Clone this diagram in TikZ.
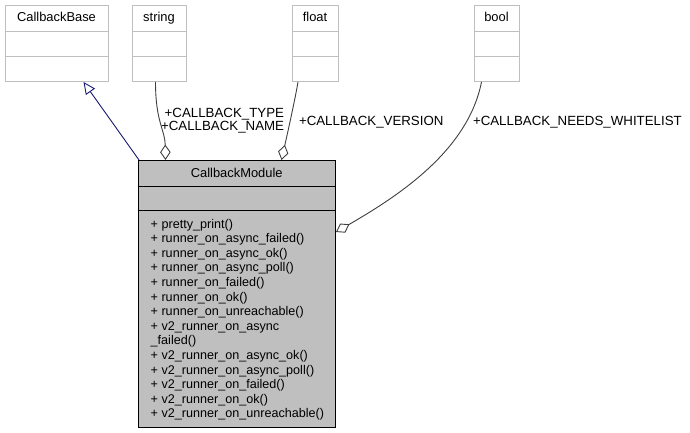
\documentclass[tikz,border=0pt]{standalone}
\usepackage{fontspec}
\setmainfont{Liberation Sans}
\usetikzlibrary{arrows.meta,calc}
\definecolor{boxgray}{HTML}{BFBFBF}
\definecolor{edgegray}{HTML}{404040}
\definecolor{navyline}{HTML}{191970}
\begin{document}
\begin{tikzpicture}[x=1pt,y=-1pt,
  font=\fontsize{12.6}{14.6}\selectfont,
  cls/.style={draw=boxgray, fill=white, line width=1pt, inner sep=0pt, rectangle},
  mainbox/.style={draw=black, fill=boxgray, line width=1pt, inner sep=0pt, rectangle},
  clsdiv/.style={draw=boxgray, line width=1pt},
  maindiv/.style={draw=black, line width=1pt},
  agg/.style={draw=edgegray, line width=0.9pt, -{Diamond[open,length=15.5pt,width=10.5pt]}},
  inh/.style={draw=navyline, line width=0.9pt, -{Triangle[open,length=12pt,width=11pt]}},
  lbl/.style={inner sep=0pt, text=black},
  ttl/.style={inner sep=0pt, text=black, font=\fontsize{12.9}{14.6}\selectfont},
  elbl/.style={inner sep=0pt, text=black, font=\fontsize{13.3}{14.6}\selectfont}]
\useasboundingbox (0,0) rectangle (690,433);
\fill[white] (0,0) rectangle (690,433);

% small classes
\node[cls, minimum width=103pt, minimum height=76pt] (base) at (56.5,43.5) {};
\node[cls, minimum width=54pt, minimum height=76pt] (string) at (159,43.5) {};
\node[cls, minimum width=46pt, minimum height=76pt] (float) at (315,43.5) {};
\node[cls, minimum width=45pt, minimum height=76pt] (bool) at (496.5,43.5) {};
\foreach \n in {base,string,float,bool}{
  \draw[clsdiv] (\n.west |- 0,31.5) -- (\n.east |- 0,31.5);
  \draw[clsdiv] (\n.west |- 0,56.5) -- (\n.east |- 0,56.5);
}
\node[ttl, anchor=base] (baseT) at (56.5,22) {CallbackBase};
\node[ttl, anchor=base] (stringT) at (159,22) {string};
\node[ttl, anchor=base] (floatT) at (315,22) {float};
\node[ttl, anchor=base] (boolT) at (496.5,22) {bool};

% main class
\node[mainbox, minimum width=197.5pt, minimum height=267pt] (cm) at (236.75,294) {};
\draw[maindiv] (cm.west |- 0,186) -- (cm.east |- 0,186);
\draw[maindiv] (cm.west |- 0,210.5) -- (cm.east |- 0,210.5);
\node[ttl, anchor=base] (cmT) at (236.75,177.5) {CallbackModule};
\foreach \t [count=\i from 0] in {%
  + pretty\_print(),
  + runner\_on\_async\_failed(),
  + runner\_on\_async\_ok(),
  + runner\_on\_async\_poll(),
  + runner\_on\_failed(),
  + runner\_on\_ok(),
  + runner\_on\_unreachable(),
  + v2\_runner\_on\_async,
  \_failed(),
  + v2\_runner\_on\_async\_ok(),
  + v2\_runner\_on\_async\_poll(),
  + v2\_runner\_on\_failed(),
  + v2\_runner\_on\_ok(),
  + v2\_runner\_on\_unreachable()}
  \node[lbl, anchor=base west] (m\i) at (150.5,228+14.6*\i) {\t};

% connectors
\draw[inh] ($(cm.north west)+(1.5,0)$) -- ($(base.south)+(27,0)$);
\draw[agg] ($(string.south)+(-3.5,0)$) .. controls (155.5,122) and (165,130) .. ($(cm.north west)+(28,0)$);
\draw[agg] ($(float.south)+(-17,0)$) .. controls (295,100) and (286,140) .. ($(cm.north west)+(144,0)$);
\draw[agg] ($(bool.south)+(-15,0)$) .. controls (468,150) and (400,195) .. ($(cm.north east)+(0,72)$);

% labels
\node[elbl, anchor=base east] (lType) at (284.3,117.3) {+CALLBACK\_TYPE};
\node[elbl, anchor=base east] (lName) at (284.3,130.5) {+CALLBACK\_NAME};
\node[elbl, anchor=base west] (lVer) at (298.8,125.5) {+CALLBACK\_VERSION};
\node[elbl, anchor=base west] (lWhite) at (472.8,125.5) {+CALLBACK\_NEEDS\_WHITELIST};
\end{tikzpicture}
\end{document}
